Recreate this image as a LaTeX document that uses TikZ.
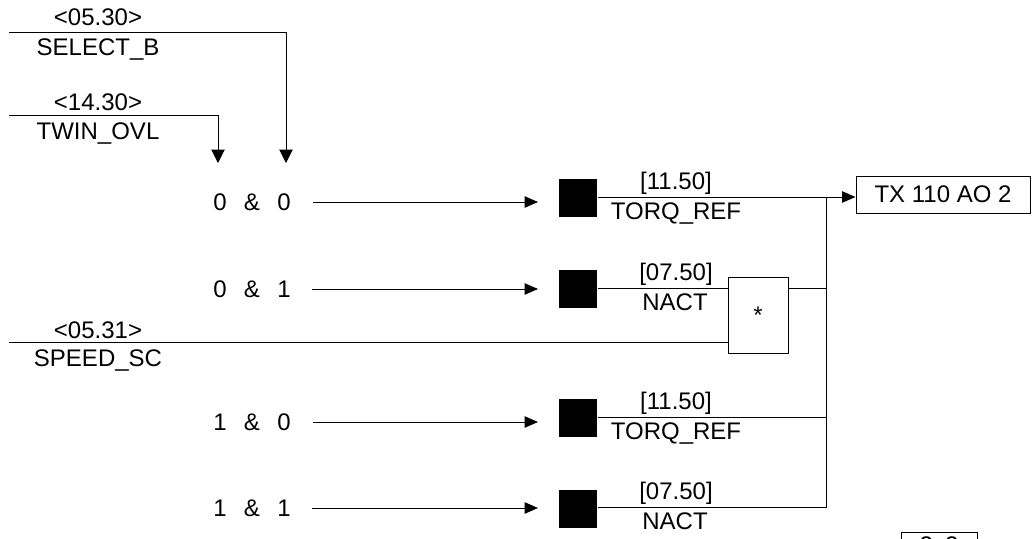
\documentclass[tikz,border=0pt]{standalone}
\usepackage{fontspec}
\setmainfont{Liberation Sans}
\usetikzlibrary{arrows.meta}
\begin{document}
\begin{tikzpicture}[x=0.75pt,y=-0.75pt,line width=0.75pt,
  font=\fontsize{18}{22}\selectfont,
  tip/.style={-{Triangle[length=10pt,width=8.5pt]}},
  dtip/.style={-{Triangle[length=10pt,width=10pt]}},
  sig/.style={inner sep=0pt,anchor=base},
  cond/.style={inner sep=0pt},
  blk/.style={fill=black,minimum size=28.5pt,inner sep=0pt},
  box/.style={draw,inner sep=0pt}]
\useasboundingbox (0,0) rectangle (1032,539);
\clip (0,0) rectangle (1032,539);

% --- selector inputs ---
\coordinate (selS) at (9,32);
\coordinate (selC) at (286,32);
\coordinate (selE) at (286,163);
\draw[dtip] (selS) -- (selC) -- (selE);
\node[sig] (selA) at (98,26) {<05.30>};
\node[sig] (selN) at (98,55) {SELECT\_B};

\coordinate (twS) at (9,115);
\coordinate (twC) at (218,115);
\coordinate (twE) at (218,163);
\draw[dtip] (twS) -- (twC) -- (twE);
\node[sig] (twA) at (98,110) {<14.30>};
\node[sig] (twN) at (98,139) {TWIN\_OVL};

% --- condition rows ---
\newcommand{\cnd}[2]{#1\hspace{13pt}\&\hspace{13pt}#2}
\node[cond] (c1) at (252,202) {\cnd{0}{0}};
\node[cond] (c2) at (252,289) {\cnd{0}{1}};
\node[cond] (c3) at (252,422) {\cnd{1}{0}};
\node[cond] (c4) at (252,508) {\cnd{1}{1}};

\coordinate (b1) at (313,202); \coordinate (e1) at (538,202);
\coordinate (b2) at (312,289); \coordinate (e2) at (538,289);
\coordinate (b3) at (313,422); \coordinate (e3) at (538,422);
\coordinate (b4) at (312,508); \coordinate (e4) at (538,508);
\draw[tip] (b1) -- (e1);
\draw[tip] (b2) -- (e2);
\draw[tip] (b3) -- (e3);
\draw[tip] (b4) -- (e4);

% --- selected signals ---
\node[blk] (s1) at (578,197.5) {};
\node[blk] (s2) at (578,288.5) {};
\node[blk] (s3) at (578,417.5) {};
\node[blk] (s4) at (578,508.5) {};

\node[sig] (s1a) at (676,189) {[11.50]};
\node[sig] (s1n) at (676,219) {TORQ\_REF};
\node[sig] (s2a) at (676,280) {[07.50]};
\node[sig] (s2n) at (675,310) {NACT};
\node[sig] (s3a) at (676,409) {[11.50]};
\node[sig] (s3n) at (676,439) {TORQ\_REF};
\node[sig] (s4a) at (676,499) {[07.50]};
\node[sig] (s4n) at (675,529) {NACT};

% --- multiplier with speed scaling ---
\node[box,minimum width=45pt,minimum height=57pt] (mul) at (758,315) {*};
\coordinate (spdS) at (9,342);
\draw (spdS) -- (spdS -| mul.west);
\node[sig] (spdA) at (98,338) {<05.31>};
\node[sig] (spdN) at (98,366) {SPEED\_SC};

% --- output bus ---
\coordinate (bus1) at (826,197);
\coordinate (bus2) at (826,288);
\coordinate (bus3) at (826,417);
\coordinate (bus4) at (826,507);
\draw (s1.east |- bus1) -- (bus1);
\draw (s2.east |- bus2) -- (mul.west |- bus2);
\draw (mul.east |- bus2) -- (bus2);
\draw (s3.east |- bus3) -- (bus3);
\draw (s4.east |- bus4) -- (bus4) -- (bus1);

\node[box,minimum width=130.5pt,minimum height=27.75pt] (tx) at (943,194.5) {TX 110 AO 2};
\draw[tip] (bus1) -- (bus1 -| tx.west);

% --- page reference, running past the lower edge ---
\node[box,anchor=north,minimum width=57pt,minimum height=28pt] (pg) at (939,532) {};
\node[anchor=north,inner sep=0pt] (pgn) at (939,536) {2\hspace{9pt}2};
\end{tikzpicture}
\end{document}
